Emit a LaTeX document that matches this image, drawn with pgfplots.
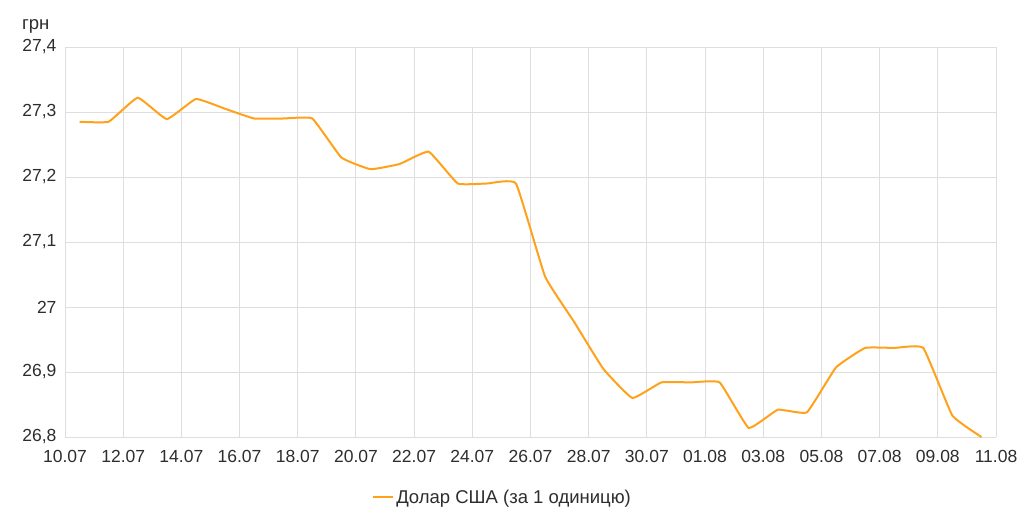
\documentclass[border=0pt]{standalone}
\usepackage{pgfplots}
\pgfplotsset{compat=1.18}
\usepackage{fontspec}
\setmainfont{Liberation Sans}
\definecolor{lineorange}{RGB}{255,161,26}
\definecolor{gridgray}{RGB}{222,222,222}
\definecolor{txt}{RGB}{45,45,45}
\begin{document}
\begin{tikzpicture}[x=1pt,y=1pt]
\useasboundingbox (0,0) rectangle (1024,530);
\begin{axis}[
  at={(65pt,93pt)}, anchor=south west,
  scale only axis, width=931pt, height=390pt,
  xmin=0, xmax=32, ymin=26.8, ymax=27.4,
  xtick={0,2,...,32},
  xticklabels={10.07,12.07,14.07,16.07,18.07,20.07,22.07,24.07,26.07,28.07,30.07,01.08,03.08,05.08,07.08,09.08,11.08},
  ytick={26.8,26.9,27.0,27.1,27.2,27.3,27.4},
  yticklabels={{26,8},{26,9},{27},{27,1},{27,2},{27,3},{27,4}},
  tick style={draw=none},
  grid=major,
  major grid style={gridgray, line width=0.9pt},
  axis line style={gridgray, line width=0.9pt},
  axis x line*=bottom, axis y line*=left,
  ticklabel style={font=\fontsize{17.5}{20}\selectfont, text=txt},
  yticklabel style={xshift=-5pt},
  xticklabel style={yshift=-10pt},
  legend style={at={(0.47,-0.154)}, anchor=center, draw=none, fill=none,
    font=\fontsize{18.5}{21}\selectfont, text=txt},
  legend image code/.code={\draw[#1, line width=2pt] (0pt,0pt) -- (20pt,0pt);},
]
\addplot[lineorange, line width=2pt, smooth, tension=0.2] coordinates {
(0.5,27.285) (1.5,27.285) (2.5,27.322) (3.5,27.289) (4.5,27.320) (5.5,27.305)
(6.5,27.290) (7.5,27.290) (8.5,27.290) (9.5,27.230) (10.5,27.212) (11.5,27.220)
(12.5,27.239) (13.5,27.190) (14.5,27.190) (15.5,27.190) (16.5,27.047) (17.5,26.977)
(18.5,26.905) (19.5,26.860) (20.5,26.884) (21.5,26.884) (22.5,26.884) (23.5,26.814)
(24.5,26.842) (25.5,26.838) (26.5,26.907) (27.5,26.937) (28.5,26.937) (29.5,26.937)
(30.5,26.833) (31.5,26.800)
};
\addlegendentry{Долар США (за 1 одиницю)}
\end{axis}
\node[anchor=west, text=txt, font=\fontsize{18.5}{21}\selectfont, inner sep=0pt] at (22,504) {грн};
\end{tikzpicture}
\end{document}
